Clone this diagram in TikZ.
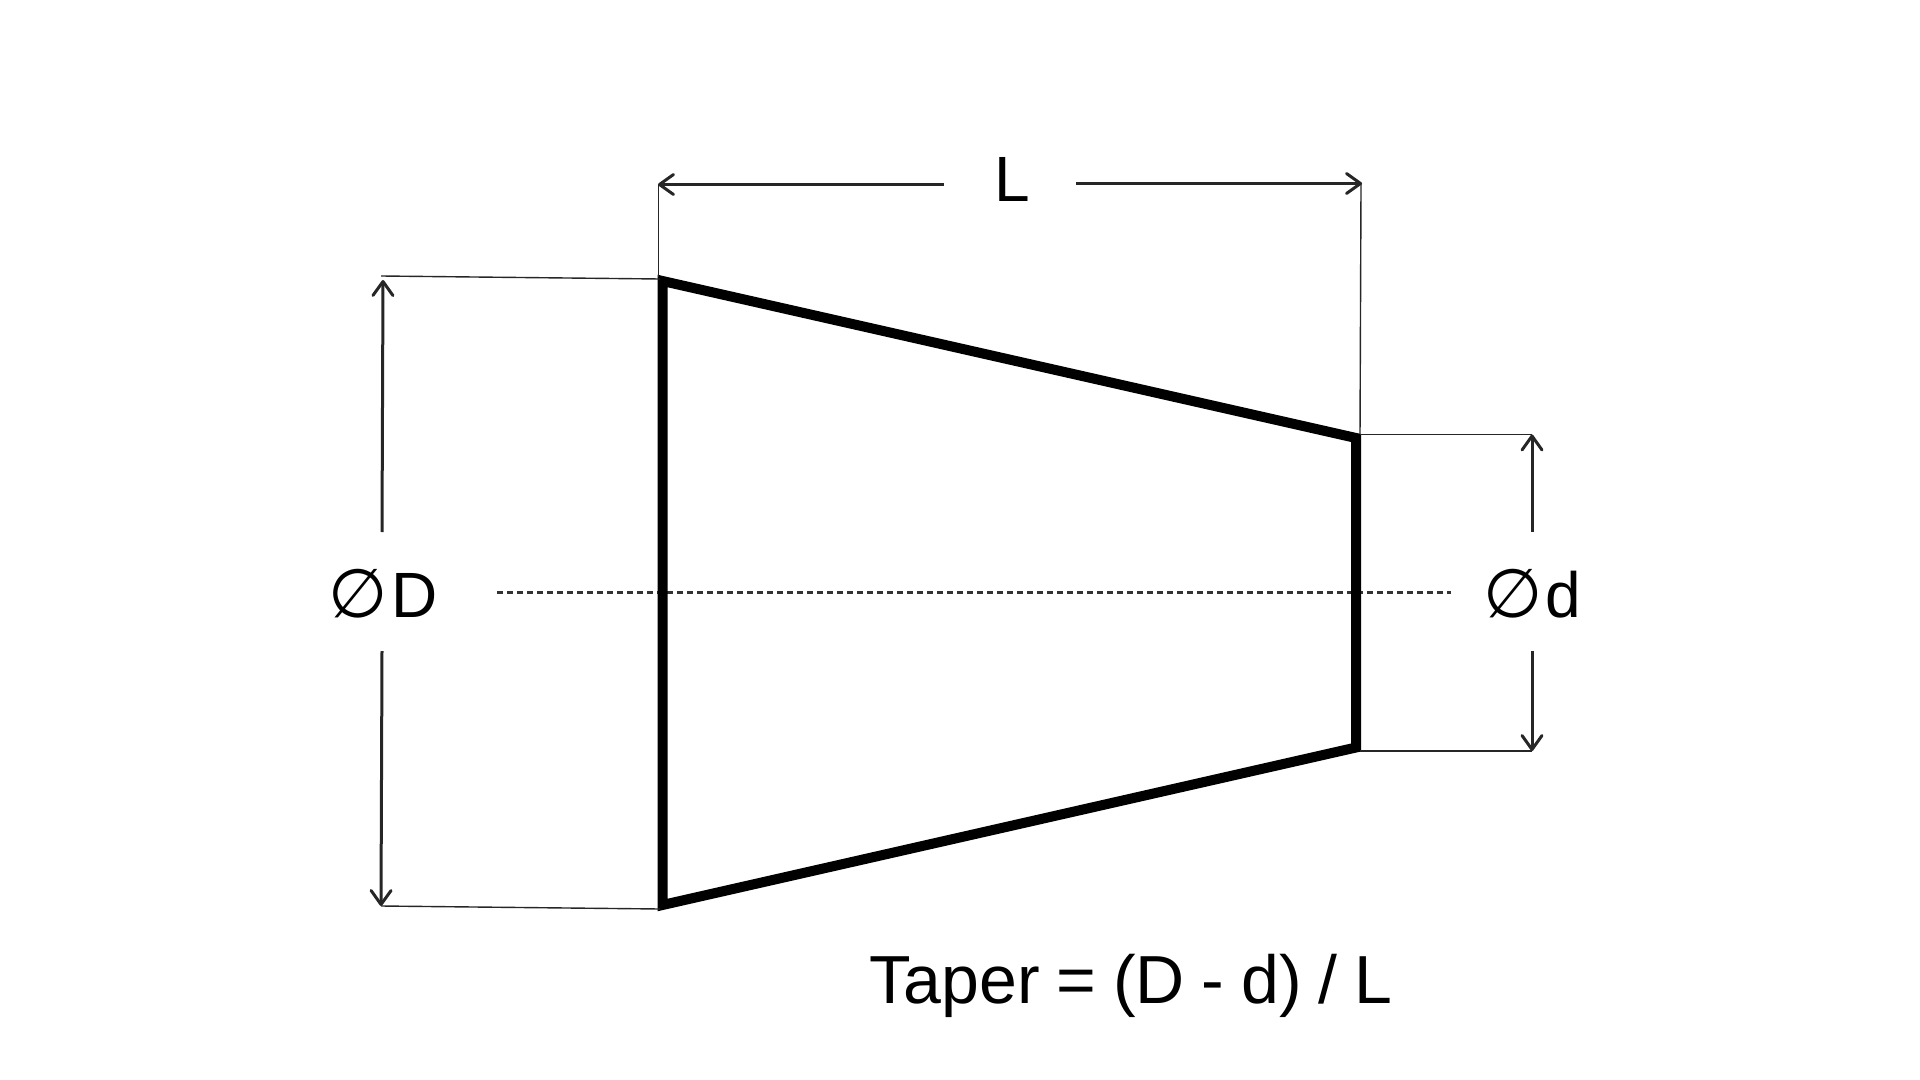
\documentclass[tikz,border=0pt]{standalone}
\usepackage{fontspec}
\setmainfont[WordSpace=0.89]{Liberation Sans}
\newfontfamily\symfont{DejaVu Sans}
\usetikzlibrary{arrows.meta}
\newcommand{\dia}{{\symfont\fontsize{34pt}{34pt}\selectfont ∅}\kern 1.5pt}
\begin{document}
\begin{tikzpicture}[
        x=0.5pt, y=-0.5pt,
        body/.style={draw=black, line width=5pt, line join=miter},
        ext/.style={draw=black!85, line width=0.7pt},
        dimarrow/.style={draw=black!85, line width=1.5pt, -{Straight Barb[length=7pt,width=10pt,round]}},
        center line/.style={draw=black!80, line width=1.2pt, dash pattern=on 3pt off 2pt},
        lab/.style={inner sep=0pt, anchor=base, font=\fontsize{32pt}{32pt}\selectfont},
        formula text/.style={lab, font=\fontsize{34pt}{34pt}\selectfont}
    ]
        \useasboundingbox (0,0) rectangle (1920,1080);
        % corners of the tapered part
        \coordinate (topleft) at (662.5,281);
        \coordinate (topright) at (1356,438);
        \coordinate (botright) at (1356,747.5);
        \coordinate (botleft) at (662.5,905);
        % axis
        \coordinate (axisl) at (497,592.5);
        \coordinate (axisr) at (1451,592.5);
        \draw[center line] (axisl) -- (axisr);
        \draw[body] (topleft) -- (topright) -- (botright) -- (botleft) -- cycle;
        % length
        \coordinate (lenl) at (658,184.5);
        \coordinate (lenr) at (1362,183.5);
        \coordinate (lengapl) at (944,184.5);
        \coordinate (lengapr) at (1076,183.5);
        \coordinate (extlt) at (658.5,184.5);
        \coordinate (extrt) at (1361,183.5);
        \coordinate (extl) at (658.5,277);
        \coordinate (extr) at (1360,434);
        \node[lab] (lenlabel) at (1012,202) {L};
        \draw[ext] (extlt) -- (extl);
        \draw[ext] (extrt) -- (extr);
        \draw[dimarrow] (lengapl) -- (lenl);
        \draw[dimarrow] (lengapr) -- (lenr);
        % large diameter
        \coordinate (bigtip) at (383,280);
        \coordinate (bigext) at (381,276);
        \coordinate (bigbot) at (381,906);
        \coordinate (biggapt) at (382,532);
        \coordinate (biggapb) at (382,651);
        \coordinate (bigextt) at (660,279);
        \coordinate (bigextb) at (660,909);
        \node[lab] (biglabel) at (383,617) {\dia D};
        \draw[ext] (bigext) -- (bigextt);
        \draw[ext] (bigbot) -- (bigextb);
        \draw[dimarrow] (biggapt) -- (bigtip);
        \draw[dimarrow] (biggapb) -- (bigbot);
        % small diameter
        \coordinate (smalltop) at (1532,434.5);
        \coordinate (smallbot) at (1532,751);
        \coordinate (smallgapt) at (1532,532);
        \coordinate (smallgapb) at (1532,651);
        \coordinate (smallextt) at (1360,434.5);
        \coordinate (smallextb) at (1360,751);
        \node[lab] (smalllabel) at (1532,617) {\dia d};
        \draw[ext] (smalltop) -- (smallextt);
        \draw[ext] (smallbot) -- (smallextb);
        \draw[dimarrow] (smallgapt) -- (smalltop);
        \draw[dimarrow] (smallgapb) -- (smallbot);
        % formula
        \node[formula text] (formula) at (1131,1003) {Taper = (D - d) / L};
\end{tikzpicture}
\end{document}
